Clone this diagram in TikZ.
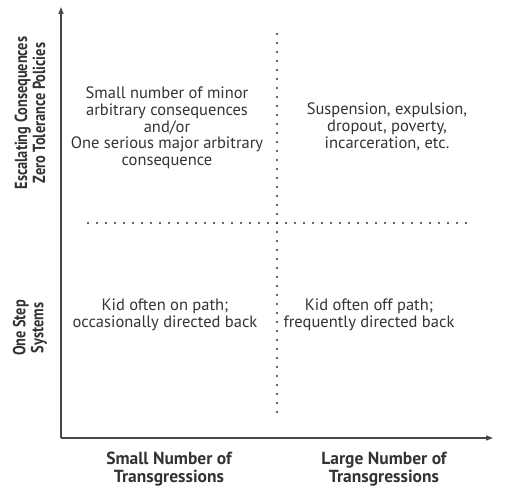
\documentclass[tikz,border=0pt]{standalone}
\usepackage{fontspec}
\setmainfont{PT Sans}
\newfontfamily\condfont{PT Sans}[FakeStretch=0.82]
\usetikzlibrary{arrows.meta}
\definecolor{ink}{HTML}{333333}
\tikzset{
  axis/.style={draw=ink!90, line width=1.3pt, -{Triangle[length=7pt,width=5pt]}},
  dotline/.style={draw=ink, line width=2.2pt, line cap=round, dash pattern=on 0pt off 9pt},
  body/.style={text=ink, align=center, font=\fontsize{16.5}{16.7}\selectfont, inner sep=0pt},
  lab/.style={text=ink, align=center, font=\bfseries\fontsize{17.5}{18}\selectfont, inner sep=0pt},
  ylab/.style={text=ink, align=center, font=\condfont\bfseries\fontsize{17.5}{18}\selectfont, inner sep=0pt, rotate=90}
}
\begin{document}
\begin{tikzpicture}[x=1pt,y=-1pt]
\useasboundingbox (0,0) rectangle (507,500);
\coordinate (O) at (61,438);
\coordinate (ytop) at (61,7);
\coordinate (xend) at (493,438);
\draw[axis] (O) -- (ytop);
\draw[axis] (O) -- (xend);
\coordinate (hl) at (88,223);
\coordinate (hr) at (466,223);
\coordinate (vt) at (277,34);
\coordinate (vb) at (277,412);
\draw[dotline] (hl) -- (hr);
\draw[dotline] (vt) -- (vb);
\node[body] (tl) at (167,128) {Small number of minor\\arbitrary consequences\\and/or\\One serious major arbitrary\\consequence};
\node[body] (tr) at (387,127) {Suspension, expulsion,\\dropout, poverty,\\incarceration, etc.};
\node[body] (bl) at (165,315) {Kid often on path;\\occasionally directed back};
\node[body] (br) at (369,315) {Kid often off path;\\frequently directed back};
\node[lab] (xl) at (169,469) {Small Number of\\Transgressions};
\node[lab] (xr) at (384,469) {Large Number of\\Transgressions};
\node[ylab] (yt) at (30,113) {Escalating Consequences\\Zero Tolerance Policies};
\node[ylab] (yb) at (30,328) {One Step\\Systems};
\end{tikzpicture}
\end{document}
